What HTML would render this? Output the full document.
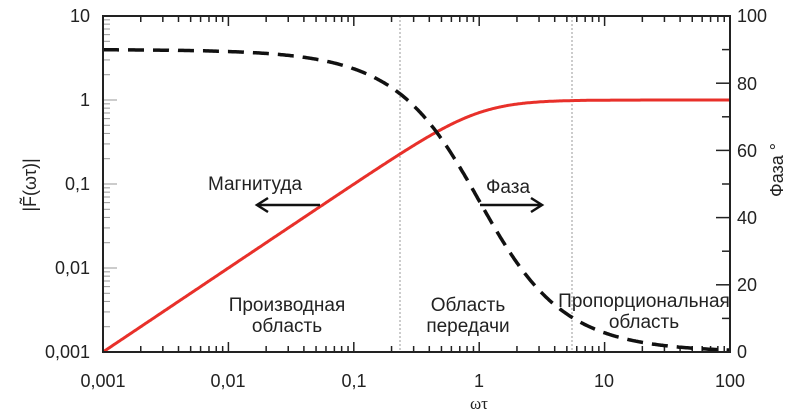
<!DOCTYPE html>
<html><head><meta charset="utf-8"><style>
html,body{margin:0;padding:0;background:#fff}
svg{display:block}
text{font-family:"Liberation Sans",sans-serif;fill:#222}
</style></head><body>
<svg id="s" width="792" height="411" viewBox="0 0 792 411" xmlns="http://www.w3.org/2000/svg">
<g id="ticks"></g>
<line x1="400" y1="16" x2="400" y2="352" stroke="#999" stroke-width="1" stroke-dasharray="2,2"/>
<line x1="572" y1="16" x2="572" y2="352" stroke="#999" stroke-width="1" stroke-dasharray="2,2"/>
<path id="red" fill="none" stroke="#e8302a" stroke-width="3"/>
<path id="dash" fill="none" stroke="#111" stroke-width="3.5" stroke-dasharray="16,9"/>
<rect x="103" y="16" width="627" height="336" fill="none" stroke="#222" stroke-width="2"/>
<g font-size="18" text-anchor="end">
<text x="90" y="22">10</text>
<text x="90" y="106">1</text>
<text x="90" y="190">0,1</text>
<text x="90" y="274">0,01</text>
<text x="90" y="358">0,001</text>
</g>
<g font-size="18" text-anchor="start">
<text x="737" y="22">100</text>
<text x="737" y="90">80</text>
<text x="737" y="157">60</text>
<text x="737" y="224">40</text>
<text x="737" y="291">20</text>
<text x="737" y="358">0</text>
</g>
<g font-size="18" text-anchor="middle">
<text x="103" y="387">0,001</text>
<text x="228" y="387">0,01</text>
<text x="354" y="387">0,1</text>
<text x="479" y="387">1</text>
<text x="604" y="387">10</text>
<text x="730" y="387">100</text>
</g>
<text x="479" y="409" font-size="17" text-anchor="middle" style="font-family:'Liberation Serif',serif">ωτ</text>
<text transform="translate(36,185) rotate(-90)" font-size="18" text-anchor="middle">|F̃(ωτ)|</text>
<text transform="translate(783,170) rotate(-90)" font-size="18" text-anchor="middle">Фаза °</text>
<g font-size="19" text-anchor="middle">
<text x="255" y="190">Магнитуда</text>
<text x="508" y="193">Фаза</text>
<text x="287" y="311">Производная</text>
<text x="287" y="332">область</text>
<text x="468" y="311">Область</text>
<text x="468" y="332">передачи</text>
<text x="644" y="307">Пропорциональная</text>
<text x="644" y="328">область</text>
</g>
<g stroke="#111" stroke-width="2.5" fill="none">
<line x1="258" y1="205" x2="320" y2="205"/>
<polyline points="268,198 257,205 268,212"/>
<line x1="480" y1="205" x2="540" y2="205"/>
<polyline points="531,198 542,205 531,212"/>
</g>
</svg>
<script>
var X=function(l){return 103+(l+3)*125.4;};
var r="",d="";
for(var i=0;i<=500;i++){var l=-3+5*i/500,x=Math.pow(10,l);
var m=x/Math.sqrt(1+x*x);var ym=100-Math.log10(m)*84;
var p=90-Math.atan(x)*180/Math.PI;var yp=352-p*3.36;
r+=(i?"L":"M")+X(l).toFixed(1)+","+ym.toFixed(1);
d+=(i?"L":"M")+X(l).toFixed(1)+","+yp.toFixed(1);}
document.getElementById("red").setAttribute("d",r);
document.getElementById("dash").setAttribute("d",d);
var t="";
for(var dec=-3;dec<2;dec++)for(var k=1;k<10;k++){var x=X(dec+Math.log10(k));var L=k==1?10:6;
t+='<line x1="'+x+'" y1="352" x2="'+x+'" y2="'+(352-L)+'" stroke="#222" stroke-width="1.5"/>';
t+='<line x1="'+x+'" y1="16" x2="'+x+'" y2="'+(16+L)+'" stroke="#222" stroke-width="1.5"/>';}
for(var dec=-3;dec<1;dec++)for(var k=1;k<10;k++){var y=100-(dec+Math.log10(k))*84;var L=k==1?14:7;
t+='<line x1="103" y1="'+y+'" x2="'+(103+L)+'" y2="'+y+'" stroke="#999" stroke-width="1"/>';}
for(var p=0;p<=100;p+=10){var y=352-p*3.36;
t+='<line x1="730" y1="'+y+'" x2="'+(p%20==0?716:722)+'" y2="'+y+'" stroke="#222" stroke-width="1.5"/>';}
document.getElementById("ticks").innerHTML=t;
</script>
</body></html>
